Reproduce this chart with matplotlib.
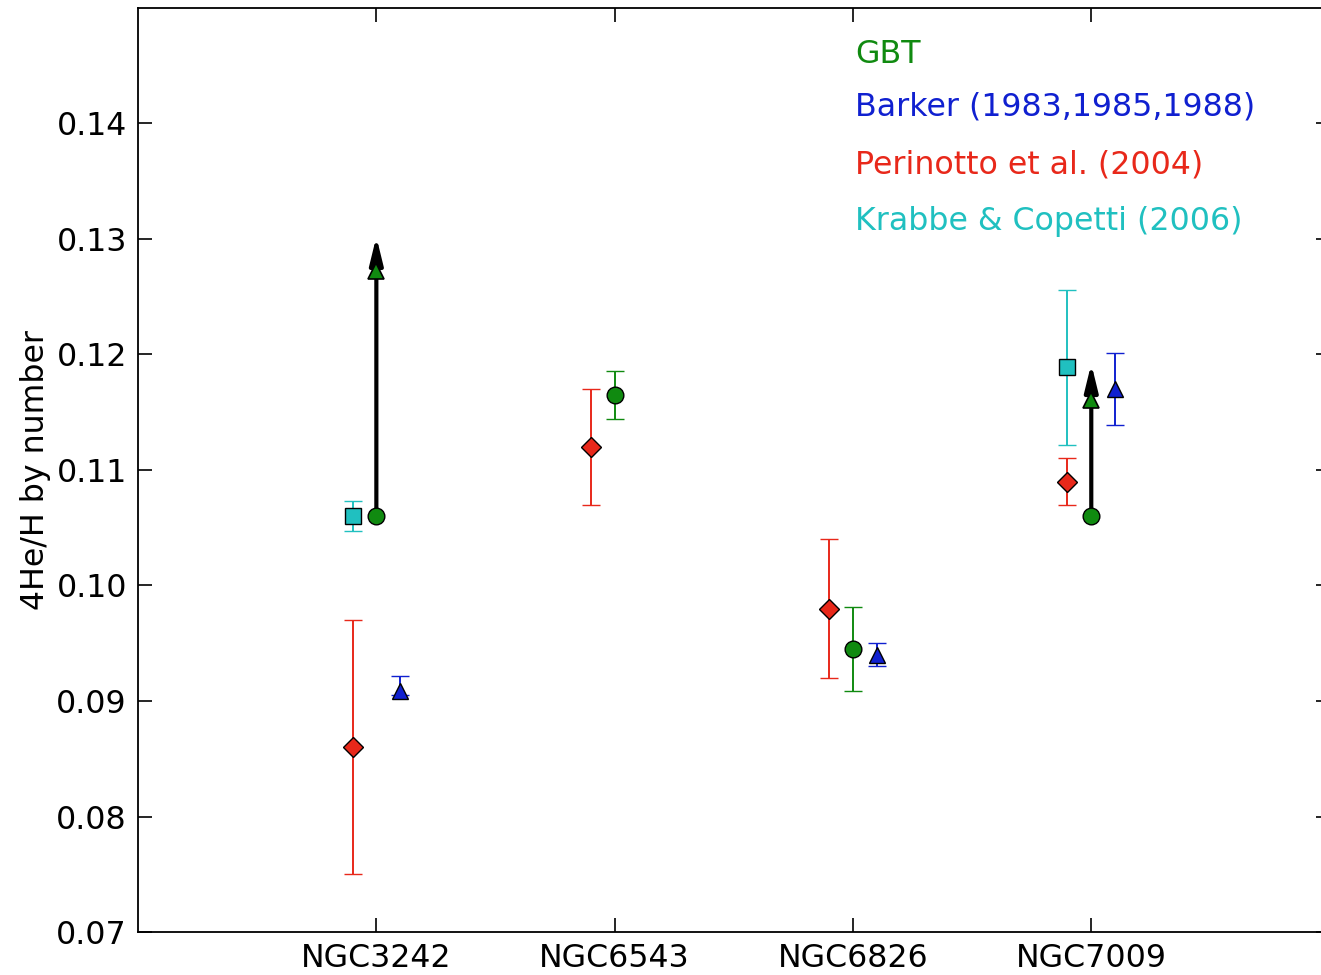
"""Helium abundance of four planetary nebulae: GBT vs optical literature values."""

import matplotlib.pyplot as plt
import numpy as np

# nebulae on the x axis
nebulae = ["NGC3242", "NGC6543", "NGC6826", "NGC7009"]

# GBT values (nan where not measured) and their errors
gbt_val = [0.1060, 0.1165, 0.0945, 0.1060]
gbt_err = [np.nan, 0.0021, 0.0036, np.nan]

# GBT lower limits drawn as arrows (start -> triangle -> tip)
gbt_limit_idx = [0, 3]
gbt_limit_marker = [0.1272, 0.1161]
gbt_limit_tip = [0.1302, 0.1192]

# Barker (1983,1985,1988)
barker_idx = [0, 2, 3]
barker_val = [0.0909, 0.0940, 0.1170]
barker_err_lo = [0.0004, 0.0010, 0.0031]
barker_err_hi = [0.0013, 0.0010, 0.0031]

# Perinotto et al. (2004)
perin_val = [0.0860, 0.1120, 0.0980, 0.1090]
perin_err = [0.0110, 0.0050, 0.0060, 0.0020]

# Krabbe & Copetti (2006)
krabbe_idx = [0, 3]
krabbe_val = [0.1060, 0.1189]
krabbe_err = [0.0013, 0.0067]

labels = ["GBT", "Barker (1983,1985,1988)", "Perinotto et al. (2004)",
          "Krabbe & Copetti (2006)"]
colors = ["#108a10", "#1020d0", "#e8281a", "#20c0c0"]

plt.rcParams["font.family"] = "DejaVu Sans"
fs = 22.8

fig = plt.figure(figsize=(13.21, 9.75), dpi=100)
ax = fig.add_axes([0.1045, 0.0441, 0.9020, 0.9477])

x = np.arange(1, len(nebulae) + 1, dtype=float)
dx = 0.1
cap = 6.4
ms = 12
common = dict(ls="none", capsize=cap, elinewidth=1.4, capthick=1.4,
              markeredgecolor="k", markeredgewidth=1.0, zorder=3)

# Perinotto
ax.errorbar(x - dx, perin_val, yerr=perin_err, fmt="D", color=colors[2],
            markersize=10, **common)

# Krabbe
xk = x[krabbe_idx] - dx
ax.errorbar(xk, krabbe_val, yerr=krabbe_err, fmt="s", color=colors[3],
            markersize=11, **common)

# Barker
xb = x[barker_idx] + dx
ax.errorbar(xb, barker_val, yerr=[barker_err_lo, barker_err_hi], fmt="^",
            color=colors[1], markersize=ms, **common)

# GBT arrows for limits
for i, m, tip in zip(gbt_limit_idx, gbt_limit_marker, gbt_limit_tip):
    ax.annotate("", xy=(x[i], tip), xytext=(x[i], gbt_val[i]),
                arrowprops=dict(arrowstyle="-|>,head_length=0.9,head_width=0.22",
                                color="k", lw=3, mutation_scale=18,
                                shrinkA=0, shrinkB=0),
                zorder=4)
    ax.plot(x[i], m, "^", color=colors[0], markersize=11,
            markeredgecolor="k", markeredgewidth=1.2, zorder=5)

# GBT points
ax.errorbar(x, gbt_val, yerr=gbt_err, fmt="o", color=colors[0],
            markersize=ms, **{**common, "zorder": 6})

# colored text legend
text_y = [0.950, 0.893, 0.830, 0.769]
for lab, col, ty in zip(labels, colors, text_y):
    ax.text(0.6015, ty, lab, color=col, fontsize=fs, transform=ax.transAxes,
            va="center", ha="left")

ax.set_xlim(0, 5)
ax.set_ylim(0.07, 0.15)
ax.set_xticks(x)
ax.set_xticklabels(nebulae)
ax.set_yticks(np.arange(0.07, 0.1401, 0.01))
ax.set_yticklabels([f"{v:.2f}" for v in np.arange(0.07, 0.1401, 0.01)])
ax.tick_params(direction="in", length=10, width=1.2, labelsize=fs,
               top=True, right=True, pad=8)
ax.set_ylabel("4He/H by number", fontsize=fs, labelpad=4)
for s in ax.spines.values():
    s.set_linewidth(1.3)

fig.savefig("out.png", dpi=100)
